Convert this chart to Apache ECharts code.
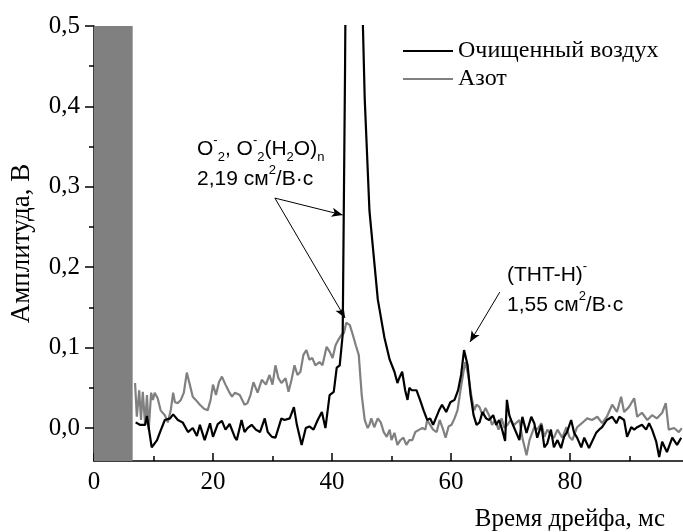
<!DOCTYPE html>
<html>
<head>
<meta charset="utf-8">
<script src="https://cdn.jsdelivr.net/npm/echarts@6.0.0/dist/echarts.min.js"></script>
<style>
  html, body { margin: 0; padding: 0; background: #fff; }
  #chart { width: 683px; height: 532px; }
</style>
</head>
<body>
<div id="chart"></div>
<script>
// drift time, ms / amplitude, V
const airTime = [7.0, 7.7, 8.6, 8.9, 9.7, 10.6, 11.1, 11.9, 12.8, 13.3, 14.1, 14.9, 15.8, 16.6, 17.3, 17.8, 18.6, 19.5, 20.0, 20.8, 21.5, 22.1, 22.8, 23.7, 24.0, 24.8, 25.3, 25.8, 26.5, 27.2, 27.9, 28.7, 29.2, 29.9, 30.5, 31.5, 32.0, 32.9, 33.6, 34.1, 34.9, 35.6, 36.2, 36.9, 37.6, 38.3, 38.9, 39.6, 40.3, 40.8, 41.3, 41.8, 42.2, 42.6, 43.2, 43.8, 44.4, 44.9, 45.2, 45.5, 46.3, 47.7, 48.8, 49.7, 50.5, 51.0, 51.3, 51.8, 52.3, 52.7, 53.0, 53.4, 54.2, 54.8, 55.4, 56.0, 56.5, 57.0, 58.0, 58.5, 59.2, 59.9, 60.6, 61.2, 61.7, 62.2, 62.8, 63.3, 63.8, 64.3, 64.8, 65.3, 65.9, 66.4, 67.1, 67.6, 68.1, 68.6, 69.1, 69.4, 69.8, 70.3, 71.5, 72.0, 72.7, 73.5, 74.0, 74.5, 75.2, 75.7, 76.2, 76.8, 77.3, 77.9, 78.5, 79.0, 79.5, 80.2, 80.7, 81.2, 81.9, 82.4, 83.2, 83.7, 84.4, 84.9, 85.4, 86.2, 87.1, 87.8, 88.3, 89.1, 89.6, 90.3, 90.8, 91.3, 92.1, 92.8, 93.3, 93.8, 94.5, 95.0, 95.5, 96.3, 97.2, 98.0, 98.7];
const airAmp = [0.007, 0.004, 0.004, 0.015, -0.024, -0.015, -0.005, 0.010, 0.012, 0.017, 0.010, 0.007, -0.005, 0.000, -0.010, 0.004, -0.015, 0.006, -0.011, 0.005, 0.009, -0.002, 0.005, -0.012, -0.015, 0.010, -0.005, 0.000, 0.004, -0.002, -0.005, 0.012, -0.005, -0.011, -0.012, 0.012, 0.010, 0.012, 0.026, 0.004, -0.021, 0.000, 0.002, -0.002, 0.010, 0.020, 0.000, 0.041, 0.045, 0.075, 0.078, 0.116, 0.45, 0.9, 1.3, 1.4, 1.1, 0.65, 0.5, 0.41, 0.27, 0.16, 0.113, 0.085, 0.070, 0.056, 0.062, 0.070, 0.047, 0.035, 0.050, 0.047, 0.047, 0.035, 0.022, 0.010, 0.012, 0.004, 0.022, 0.029, 0.020, 0.032, 0.035, 0.047, 0.066, 0.097, 0.078, 0.041, 0.016, 0.004, 0.007, 0.020, 0.012, 0.010, 0.016, 0.004, 0.010, -0.002, -0.016, 0.035, 0.016, 0.006, -0.015, 0.014, -0.006, 0.014, 0.006, -0.012, 0.004, -0.024, -0.019, -0.002, -0.024, -0.015, -0.025, -0.011, -0.005, 0.010, -0.006, -0.012, -0.024, -0.012, -0.025, -0.017, -0.006, -0.002, 0.001, 0.010, 0.014, 0.006, 0.014, 0.010, -0.011, 0.001, -0.002, 0.001, 0.004, -0.002, 0.006, -0.002, -0.017, -0.036, -0.017, -0.030, -0.012, -0.021, -0.012];

const n2Time = [6.9, 7.2, 7.6, 7.9, 8.2, 8.6, 8.9, 9.2, 9.6, 9.9, 10.2, 10.7, 11.2, 11.9, 12.4, 12.9, 13.3, 13.6, 14.1, 14.6, 15.1, 15.6, 16.1, 16.6, 17.1, 17.8, 18.5, 19.1, 19.6, 20.0, 20.5, 21.0, 21.5, 22.1, 22.7, 23.2, 23.7, 24.5, 25.3, 25.8, 26.3, 26.8, 27.5, 28.2, 28.9, 29.5, 30.0, 30.5, 31.0, 31.5, 32.2, 32.7, 33.2, 33.7, 34.2, 34.7, 35.2, 35.7, 36.2, 36.7, 37.2, 37.9, 38.4, 39.1, 39.6, 40.1, 40.6, 41.1, 41.6, 42.0, 42.4, 43.0, 43.5, 44.0, 44.5, 45.0, 45.5, 46.0, 46.3, 46.6, 47.1, 47.7, 48.2, 48.7, 49.2, 49.7, 50.0, 50.5, 51.0, 51.5, 52.0, 52.5, 53.0, 53.5, 54.0, 54.7, 55.2, 55.7, 56.0, 56.5, 57.0, 57.6, 58.1, 58.6, 59.1, 59.6, 60.1, 60.6, 61.1, 61.6, 62.1, 62.4, 62.9, 63.4, 63.9, 64.3, 64.8, 65.3, 65.8, 66.4, 66.9, 67.4, 68.0, 68.5, 69.0, 69.5, 70.0, 70.6, 71.5, 72.0, 72.7, 73.2, 74.0, 74.5, 75.2, 75.7, 76.2, 76.8, 77.3, 77.9, 78.7, 79.4, 79.9, 80.4, 81.2, 82.0, 82.9, 83.7, 84.6, 85.4, 86.2, 87.1, 87.9, 88.6, 89.1, 89.9, 90.8, 91.3, 92.1, 93.0, 93.8, 94.6, 95.5, 96.1, 96.6, 97.5, 98.3, 98.8];
const n2Amp = [0.056, 0.014, 0.047, 0.010, 0.045, 0.004, 0.041, -0.002, 0.044, 0.035, 0.044, 0.037, 0.022, 0.016, 0.007, 0.022, 0.044, 0.032, 0.031, 0.035, 0.044, 0.069, 0.054, 0.039, 0.035, 0.029, 0.024, 0.022, 0.035, 0.054, 0.041, 0.057, 0.064, 0.054, 0.045, 0.039, 0.044, 0.041, 0.029, 0.031, 0.041, 0.057, 0.044, 0.060, 0.054, 0.066, 0.054, 0.078, 0.062, 0.056, 0.062, 0.045, 0.060, 0.078, 0.066, 0.070, 0.091, 0.097, 0.085, 0.087, 0.078, 0.082, 0.078, 0.101, 0.095, 0.087, 0.103, 0.110, 0.116, 0.118, 0.131, 0.128, 0.116, 0.103, 0.091, 0.041, 0.010, 0.000, 0.004, 0.012, 0.001, 0.012, 0.007, -0.005, -0.011, -0.002, -0.015, -0.006, -0.021, -0.015, -0.012, -0.021, -0.015, -0.015, -0.005, -0.002, 0.000, -0.002, 0.010, 0.004, -0.002, -0.005, 0.010, 0.000, -0.012, 0.002, 0.004, 0.012, 0.022, 0.047, 0.070, 0.082, 0.066, 0.041, 0.022, 0.029, 0.026, 0.016, 0.025, 0.016, 0.004, 0.010, -0.002, 0.012, 0.000, 0.004, 0.010, 0.004, 0.010, -0.012, -0.034, -0.015, 0.001, -0.002, 0.006, -0.011, -0.002, -0.009, -0.012, -0.002, -0.012, 0.001, -0.011, -0.015, 0.001, 0.006, 0.012, 0.010, 0.014, 0.006, 0.014, 0.029, 0.020, 0.039, 0.020, 0.026, 0.037, 0.014, 0.019, 0.010, 0.016, 0.012, 0.019, 0.031, -0.002, 0.000, -0.005, 0.000];

// detector saturation region (drawn as a filled block)
const saturation = [0, 6.5];

const xMajor = [0, 20, 40, 60, 80];
const xMinor = [10, 30, 50, 70, 90];
const yMajor = [0, 0.1, 0.2, 0.3, 0.4, 0.5];
const yMinor = [0.05, 0.15, 0.25, 0.35, 0.45];

// annotation arrows: [fromX, fromY, toX, toY] in data units
const arrows = [
  [30.4, 0.286, 41.8, 0.265],
  [30.4, 0.286, 42.2, 0.137],
  [68.2, 0.169, 63.2, 0.107]
];

const serif = "'Liberation Serif', 'Times New Roman', serif";
const sans = "'Liberation Sans', Arial, sans-serif";
const comma = v => v.toFixed(1).replace('.', ',');

const zip = (a, b) => a.map((t, i) => [t, b[i]]);

const chart = echarts.init(document.getElementById('chart'));

const rich = {
  sup: { fontSize: 13, fontFamily: sans, verticalAlign: 'top', lineHeight: 30 },
  sub: { fontSize: 13, fontFamily: sans, verticalAlign: 'bottom', lineHeight: 30 },
  n: { fontSize: 21, fontFamily: sans, lineHeight: 30 }
};

chart.setOption({
  animation: false,
  backgroundColor: '#fff',
  grid: { left: 94, right: 0, top: 26, bottom: 71 },
  legend: {
    orient: 'vertical',
    left: 403,
    top: 39,
    padding: 0,
    icon: 'rect',
    itemWidth: 50,
    itemHeight: 2,
    itemGap: 4,
    textStyle: { fontFamily: serif, fontSize: 24, color: '#000', lineHeight: 24 },
    data: ['Очищенный воздух', 'Азот']
  },
  xAxis: [
    {
      type: 'value',
      min: 0,
      max: 99,
      name: 'Время дрейфа, мс',
      nameLocation: 'end',
      nameGap: -18,
      nameTextStyle: {
        fontFamily: serif, fontSize: 25, color: '#000',
        align: 'right', verticalAlign: 'top', padding: [46, 0, 0, 0]
      },
      axisLine: { onZero: false, lineStyle: { color: '#000', width: 1.5 } },
      axisTick: { inside: true, length: 8, customValues: xMajor, lineStyle: { color: '#000', width: 1.5 } },
      axisLabel: {
        customValues: xMajor, margin: 9, fontFamily: serif, fontSize: 25, color: '#000',
        formatter: v => String(v)
      },
      splitLine: { show: false }
    },
    {
      type: 'value',
      min: 0,
      max: 99,
      position: 'bottom',
      axisLine: { show: false, onZero: false },
      axisTick: { show: true, inside: true, length: 5, customValues: xMinor, lineStyle: { color: '#000', width: 1.5 } },
      axisLabel: { show: false },
      splitLine: { show: false }
    }
  ],
  yAxis: [
    {
      type: 'value',
      min: -0.041,
      max: 0.5,
      name: 'Амплитуда, В',
      nameLocation: 'middle',
      nameGap: 59,
      nameTextStyle: { fontFamily: serif, fontSize: 27, color: '#000' },
      axisLine: { show: true, onZero: false, lineStyle: { color: '#000', width: 1.5 } },
      axisTick: { show: true, length: 9, customValues: yMajor, lineStyle: { color: '#000', width: 1.5 } },
      axisLabel: {
        customValues: yMajor, margin: 14, fontFamily: serif, fontSize: 25, color: '#000',
        formatter: comma
      },
      splitLine: { show: false }
    },
    {
      type: 'value',
      min: -0.041,
      max: 0.5,
      position: 'left',
      axisLine: { show: false, onZero: false },
      axisTick: { show: true, length: 5, customValues: yMinor, lineStyle: { color: '#000', width: 1.5 } },
      axisLabel: { show: false },
      splitLine: { show: false }
    }
  ],
  series: [
    {
      name: 'Азот',
      type: 'line',
      symbol: 'none',
      data: zip(n2Time, n2Amp),
      lineStyle: { color: '#808080', width: 2.2 },
      itemStyle: { color: '#808080' },
      z: 2,
      markArea: {
        silent: true,
        itemStyle: { color: '#808080', opacity: 1 },
        data: [[{ xAxis: saturation[0] }, { xAxis: saturation[1] }]]
      }
    },
    {
      name: 'Очищенный воздух',
      type: 'line',
      symbol: 'none',
      data: zip(airTime, airAmp),
      lineStyle: { color: '#000', width: 2.2 },
      itemStyle: { color: '#000' },
      z: 3,
      markLine: {
        silent: true,
        symbol: ['none', 'arrow'],
        symbolSize: [7, 11],
        label: { show: false },
        lineStyle: { color: '#000', width: 1, type: 'solid' },
        data: arrows.map(a => [{ coord: [a[0], a[1]] }, { coord: [a[2], a[3]] }])
      }
    }
  ],
  graphic: [
    {
      type: 'text', left: 197, top: 134,
      style: {
        text: '{n|O}{sup|-}{sub|2}{n|, O}{sup|-}{sub|2}{n|(H}{sub|2}{n|O)}{sub|n}',
        rich: rich, fill: '#000'
      }
    },
    {
      type: 'text', left: 197, top: 164,
      style: { text: '{n|2,19 см}{sup|2}{n|/В·с}', rich: rich, fill: '#000' }
    },
    {
      type: 'text', left: 507, top: 260,
      style: { text: '{n|(THT-H)}{sup|-}', rich: rich, fill: '#000' }
    },
    {
      type: 'text', left: 507, top: 290,
      style: { text: '{n|1,55 см}{sup|2}{n|/В·с}', rich: rich, fill: '#000' }
    }
  ]
});
</script>
</body>
</html>
